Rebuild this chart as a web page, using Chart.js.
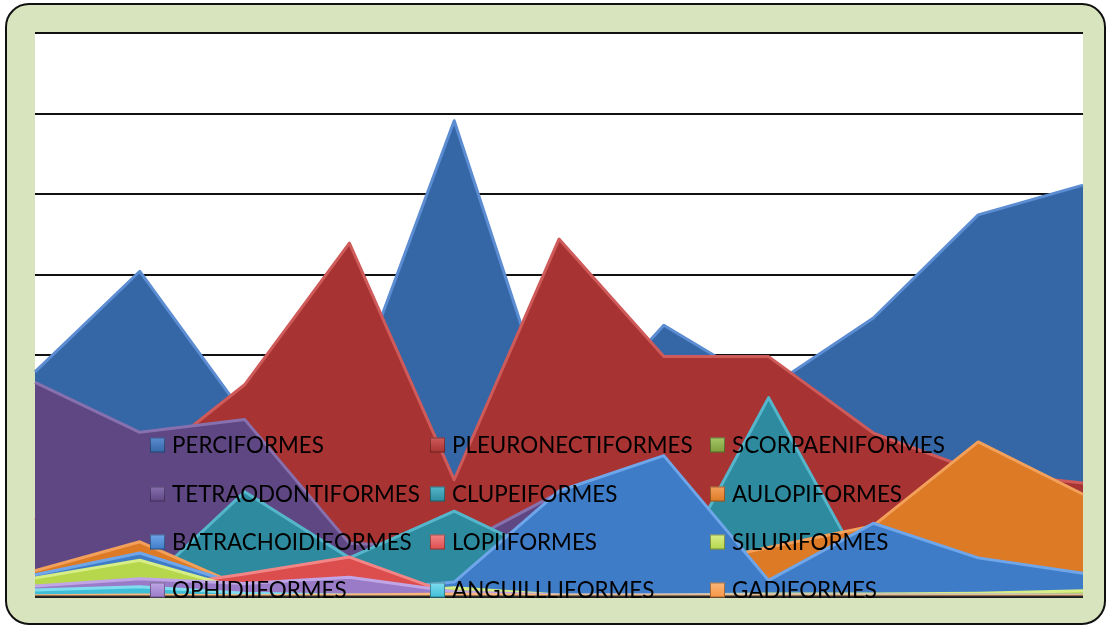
<!DOCTYPE html>
<html>
<head>
<meta charset="utf-8">
<script src="https://cdn.jsdelivr.net/npm/chart.js@4.4.1/dist/chart.umd.min.js"></script>
<style>
  html, body { margin: 0; padding: 0; background: #ffffff; }
  #wrap { position: relative; width: 1107px; height: 626px; overflow: hidden; background: #ffffff; }
  #frame { position: absolute; left: 5px; top: 3px; width: 1097px; height: 618px;
           border: 2px solid #111; border-radius: 24px; background: #D8E4BE; }
  #c { position: absolute; left: 0; top: 0; }
</style>
</head>
<body>
<div id="wrap">
  <div id="frame"></div>
  <canvas id="c" width="1107" height="626"></canvas>
</div>
<script>
// ---- data ----
const categories = ["1", "2", "3", "4", "5", "6", "7", "8", "9", "10", "11"];
const seriesNames = ["PERCIFORMES", "PLEURONECTIFORMES", "SCORPAENIFORMES",
  "TETRAODONTIFORMES", "CLUPEIFORMES", "AULOPIFORMES",
  "BATRACHOIDIFORMES", "LOPIIFORMES", "SILURIFORMES",
  "OPHIDIIFORMES", "ANGUILLLIFORMES", "GADIFORMES"];

const perciformes       = [27.9, 40.4, 22.5, 24.0, 59.1, 19.4, 33.7, 25.9, 34.6, 47.4, 51.1];
const pleuronectiformes = [9.5, 16.0, 26.3, 43.9, 14.5, 44.4, 29.8, 29.8, 20.3, 15.5, 14.1];
const scorpaeniformes   = [0.3, 0.4, 0.2, 0.1, 0.2, 0.1, 0.2, 0.3, 0.3, 0.4, 0.5];
const tetraodontiformes = [26.6, 20.4, 22.0, 6.6, 6.0, 12.9, 7.0, 0.8, 0.3, 0.2, 0.2];
const clupeiformes      = [0.6, 0.8, 13.0, 4.8, 10.6, 4.4, 0.6, 24.7, 1.1, 0.2, 0.1];
const aulopiformes      = [3.2, 6.8, 1.1, 0.3, 0.4, 0.3, 3.3, 6.1, 8.8, 19.2, 12.7];
const batrachoidiformes = [2.7, 5.4, 1.3, 0.6, 1.8, 13.1, 17.5, 2.0, 9.1, 4.8, 2.9];
const lopiiformes       = [0.8, 0.9, 2.8, 4.9, 0.2, 0.1, 0.1, 0.1, 0.1, 0.1, 0.1];
const siluriformes      = [2.3, 4.5, 0.8, 0.2, 1.1, 0.2, 0.2, 0.3, 0.3, 0.4, 0.7];
const ophidiiformes     = [1.3, 2.2, 1.6, 2.4, 0.6, 0.2, 0.2, 0.2, 0.2, 0.2, 0.2];
const anguillliformes   = [0.8, 1.2, 0.4, 0.2, 0.1, 0.1, 0.1, 0.1, 0.1, 0.1, 0.1];
const gadiformes        = [0.1, 0.2, 0.1, 0.2, 0.3, 0.1, 0.1, 0.1, 0.1, 0.1, 0.1];

const seriesValues = [perciformes, pleuronectiformes, scorpaeniformes, tetraodontiformes,
  clupeiformes, aulopiformes, batrachoidiformes, lopiiformes, siluriformes,
  ophidiiformes, anguillliformes, gadiformes];

const yTicks = [0, 10, 20, 30, 40, 50, 60, 70];

// ---- styles ----
const fills   = ["#3566A6", "#A83333", "#7E9E3C", "#5F4784", "#2E8B9F", "#DD7A26",
                 "#3E7CC7", "#DC4D4D", "#B6D64C", "#9A7BC8", "#3FBFD7", "#F79646"];
const borders = ["#5C8DD2", "#CF5A5A", "#A4C766", "#8770AE", "#55B6CB", "#F3A05A",
                 "#6FA6EA", "#F28585", "#D7EE86", "#C0A6E6", "#80DDF0", "#FBB77A"];

const datasets = seriesNames.map((name, i) => ({
  label: name,
  data: seriesValues[i],
  backgroundColor: fills[i],
  borderColor: borders[i],
  borderWidth: 3,
  pointRadius: 0,
  tension: 0,
  fill: 'origin',
  order: seriesNames.length - i
}));

const plotBg = {
  id: 'plotBg',
  beforeDraw(chart) {
    const a = chart.chartArea, ctx = chart.ctx;
    ctx.save();
    ctx.fillStyle = '#ffffff';
    ctx.fillRect(a.left, a.top, a.right - a.left, a.bottom - a.top);
    ctx.restore();
  }
};

const overlayLegend = {
  id: 'overlayLegend',
  afterDatasetsDraw(chart) {
    const ctx = chart.ctx;
    const a = chart.chartArea;
    // bottom axis line over the areas
    ctx.save();
    ctx.strokeStyle = '#2a2a2a';
    ctx.lineWidth = 2;
    ctx.beginPath();
    ctx.moveTo(a.left, a.bottom);
    ctx.lineTo(a.right, a.bottom);
    ctx.stroke();
    ctx.restore();

    const colX = [150, 430, 710];
    const rowY = [445, 494, 542, 590];
    const box = 15;
    ctx.save();
    ctx.font = '22.4px Lato, "Open Sans", sans-serif';
    ctx.textBaseline = 'middle';
    chart.data.datasets.forEach((ds, i) => {
      const col = i % 3, row = Math.floor(i / 3);
      const x = colX[col], y = rowY[row];
      const g = ctx.createLinearGradient(x, y - box / 2, x, y + box / 2);
      g.addColorStop(0, ds.borderColor);
      g.addColorStop(1, ds.backgroundColor);
      ctx.fillStyle = g;
      ctx.fillRect(x, y - box / 2, box, box);
      ctx.strokeStyle = 'rgba(0,0,0,0.35)';
      ctx.lineWidth = 1;
      ctx.strokeRect(x + 0.5, y - box / 2 + 0.5, box - 1, box - 1);
      ctx.fillStyle = '#000000';
      ctx.fillText(ds.label, x + 22, y + 1);
    });
    ctx.restore();
  }
};

new Chart(document.getElementById('c'), {
  type: 'line',
  data: { labels: categories, datasets: datasets },
  options: {
    responsive: false,
    animation: false,
    devicePixelRatio: 1,
    layout: { padding: { left: 35, top: 33, right: 24, bottom: 29.5 } },
    plugins: { legend: { display: false }, tooltip: { enabled: false } },
    elements: { line: { borderJoinStyle: 'round' } },
    scales: {
      x: { display: false, offset: false },
      y: {
        min: yTicks[0], max: yTicks[yTicks.length - 1],
        afterBuildTicks(scale) { scale.ticks = yTicks.map(v => ({ value: v })); },
        ticks: { display: false },
        border: { display: false },
        grid: { color: '#111111', lineWidth: 2, drawTicks: false }
      }
    }
  },
  plugins: [plotBg, overlayLegend]
});
</script>
</body>
</html>
